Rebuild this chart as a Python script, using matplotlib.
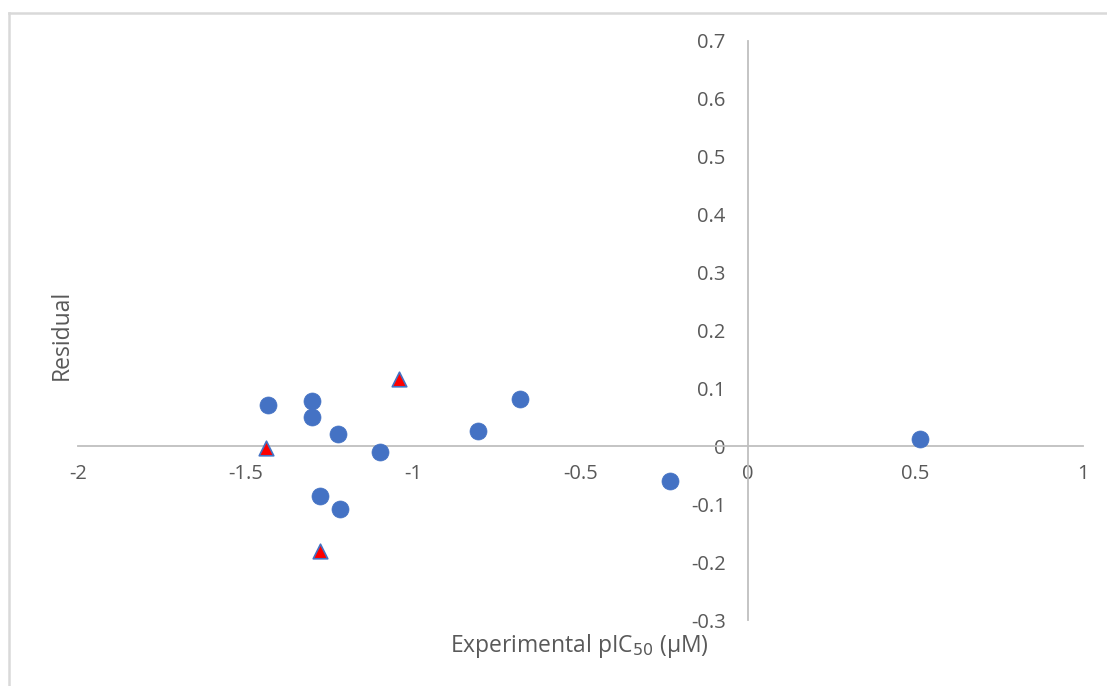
import numpy as np
import matplotlib
matplotlib.use("Agg")
from matplotlib import pyplot as plt
from matplotlib.lines import Line2D

# blue circles (training set)
circ_x = [-1.433, -1.301, -1.301, -1.224, -1.099, -1.278, -1.218, -0.806, -0.681, -0.233, 0.513]
circ_y = [0.071, 0.078, 0.050, 0.022, -0.009, -0.085, -0.109, 0.026, 0.081, -0.060, 0.012]
# red triangles (test set)
tri_x = [-1.439, -1.042, -1.278]
tri_y = [-0.003, 0.116, -0.181]

xticks = [-2, -1.5, -1, -0.5, 0, 0.5, 1]
yticks = [-0.3, -0.2, -0.1, 0, 0.1, 0.2, 0.3, 0.4, 0.5, 0.6, 0.7]

plt.rcParams['font.family'] = ['Open Sans', 'DejaVu Sans']
txtcol = '#595959'
axcol = '#BFBFBF'

fig = plt.figure(figsize=(11.07, 6.86), dpi=100)
ax = fig.add_axes([78/1107, 1-620/686, (1083-78)/1107, (620-41)/686])

ax.scatter(circ_x, circ_y, s=150, color='#4472C4', edgecolors='#4472C4', linewidths=0.5, zorder=3)
ax.scatter(tri_x, tri_y, s=110, marker='^', color='#FF0000', edgecolors='#4472C4', linewidths=1.2, zorder=3)

ax.set_xlim(-2, 1)
ax.set_ylim(-0.3, 0.7)
ax.set_xticks(xticks)
ax.set_xticklabels(['{:g}'.format(v) for v in xticks])
ax.set_yticks(yticks)
ax.set_yticklabels(['{:g}'.format(v) for v in yticks])

ax.spines['left'].set_position(('data', 0))
ax.spines['bottom'].set_position(('data', 0))
ax.spines['top'].set_visible(False)
ax.spines['right'].set_visible(False)
for s in ['left', 'bottom']:
    ax.spines[s].set_color(axcol)
    ax.spines[s].set_linewidth(1.3)
ax.tick_params(axis='both', length=0, labelsize=14.5, labelcolor=txtcol)
ax.tick_params(axis='x', pad=13)
ax.tick_params(axis='y', pad=16)

fig.text(62/1107, 1-335/686, 'Residual', rotation=90, ha='center', va='center',
         fontsize=16.5, color=txtcol)
fig.text(579/1107, 1-646/686, 'Experimental pIC$_{50}$ (\u00b5M)', ha='center', va='center',
         fontsize=16.5, color=txtcol)

# chart frame (only top and left edges are visible)
fig.add_artist(Line2D([9/1107, 1], [1-13/686, 1-13/686], transform=fig.transFigure,
                      color='#D9D9D9', linewidth=1.8))
fig.add_artist(Line2D([9/1107, 9/1107], [0, 1-13/686], transform=fig.transFigure,
                      color='#D9D9D9', linewidth=1.8))

fig.savefig('out.png', dpi=100)
